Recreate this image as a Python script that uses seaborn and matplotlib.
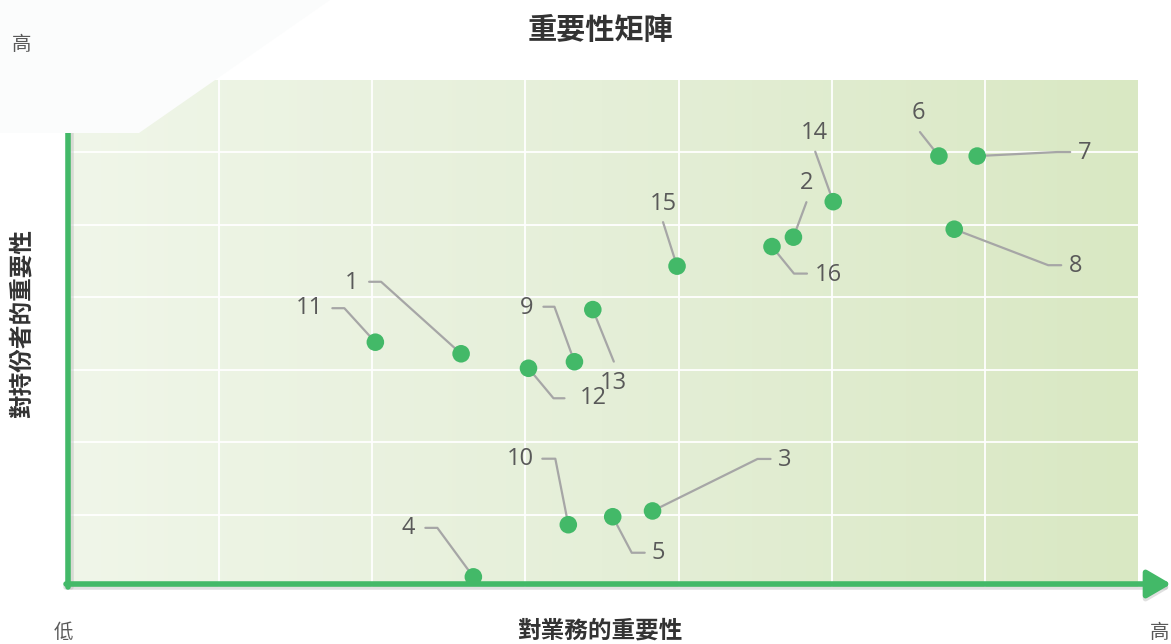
import matplotlib
matplotlib.use("Agg")
import matplotlib.pyplot as plt
from matplotlib.colors import LinearSegmentedColormap
from matplotlib.patches import Polygon
import numpy as np
import pandas as pd
import seaborn as sns

# ── data ──────────────────────────────────────────────────────────────────────
TITLE = "重要性矩陣"
X_LABEL = "對業務的重要性"
Y_LABEL = "對持份者的重要性"
LOW, HIGH = "低", "高"

issue_ids = ["1", "2", "3", "4", "5", "6", "7", "8",
             "9", "10", "11", "12", "13", "14", "15", "16"]
business = [2.58, 4.75, 3.83, 2.66, 3.57, 5.70, 5.95, 5.80,
            3.32, 3.28, 2.02, 3.02, 3.44, 5.01, 3.99, 4.61]
stakeholder = [3.22, 4.83, 1.05, 0.14, 0.97, 5.95, 5.95, 4.94,
               3.11, 0.86, 3.38, 3.02, 3.83, 5.32, 4.43, 4.70]

# label placement: text offset and leader path, in output pixels (x right, y down)
LABEL_LAYOUT = {
    "1":  ((-109, -71), [(-80, -72), (-92, -72)]),
    "2":  ((13, -54),   [(13, -35)]),
    "3":  ((132, -51),  [(105, -52), (118, -52)]),
    "4":  ((-65, -49),  [(-36, -49), (-48, -49)]),
    "5":  ((46, 36),    [(19, 36), (32, 36)]),
    "6":  ((-21, -43),  [(-19, -24)]),
    "7":  ((107, -3),   [(80, -4), (93, -4)]),
    "8":  ((121, 37),   [(94, 36), (107, 36)]),
    "9":  ((-48, -54),  [(-20, -55), (-31, -55)]),
    "10": ((-48, -66),  [(-13, -66), (-26, -66)]),
    "11": ((-66, -34),  [(-31, -34), (-43, -34)]),
    "12": ((65, 30),    [(25, 30), (36, 30)]),
    "13": ((21, 73),    [(21, 52)]),
    "14": ((-19, -69),  [(-18, -50)]),
    "15": ((-14, -62),  [(-14, -44)]),
    "16": ((56, 28),    [(22, 27), (35, 27)]),
}

GREEN = "#43B968"
TEXT = "#595959"
CJK = ["Noto Sans CJK TC", "DejaVu Sans"]

sns.set_theme(style="white")
plt.rcParams["font.family"] = ["Open Sans", "Noto Sans CJK TC", "DejaVu Sans"]

df = pd.DataFrame({"id": issue_ids, "business": business, "stakeholder": stakeholder})

W, H = 1171, 644
fig = plt.figure(figsize=(W / 100, H / 100), dpi=100)
fig.patch.set_facecolor("white")

# faint decorative shape in the top-left corner
fig.patches.append(Polygon([(0, 1), (330 / W, 1), (139 / W, 1 - 133 / H), (0, 1 - 133 / H)],
                           closed=True, transform=fig.transFigure,
                           facecolor="#FBFCFC", edgecolor="none", zorder=0))

ax = fig.add_axes([66 / W, 57 / H, 1072 / W, 507 / H])
ax.set_xlim(0, 7)
ax.set_ylim(0, 7)

# green gradient background
cmap = LinearSegmentedColormap.from_list("bg", ["#F0F6E9", "#E5EFD8", "#D9E8C3"])
ax.imshow(np.linspace(0, 1, 256)[None, :], cmap=cmap, extent=[0, 7, 0, 7],
          aspect="auto", zorder=0, interpolation="bilinear")

ax.set_xticks(range(1, 7))
ax.set_yticks(range(1, 7))
ax.grid(True, color="white", lw=1.3)
ax.tick_params(length=0, labelbottom=False, labelleft=False)
for s in ax.spines.values():
    s.set_visible(False)

sns.scatterplot(data=df, x="business", y="stakeholder", color=GREEN, s=160,
                edgecolor="none", ax=ax, zorder=5, clip_on=False)
ax.set_xlabel("")
ax.set_ylabel("")

# leader lines and labels
for pid, x, y in zip(issue_ids, business, stakeholder):
    (tx, ty), path = LABEL_LAYOUT[pid]
    px, py = ax.transData.transform((x, y))
    xs = [px] + [px + dx for dx, dy in path]
    ys = [py] + [py - dy for dx, dy in path]
    ax.add_line(plt.Line2D(xs, ys, transform=None, color="#A6A6A6", lw=1.6,
                           zorder=4, clip_on=False))
    ax.annotate(pid, xy=(x, y), xytext=(tx, -ty), textcoords="offset pixels",
                ha="center", va="center", fontsize=17, color=TEXT, zorder=6)

# axis arrows with a soft shadow
arrow = dict(arrowstyle="-|>,head_width=0.7,head_length=1.2", lw=4, color=GREEN,
             shrinkA=0, shrinkB=0)
shadow = dict(arrow, color="#BBBBBB", alpha=0.45)
for props, off in [(shadow, 3), (arrow, 0)]:
    ax.annotate("", xy=(1105 / 1072, (3 - off) / 507), xytext=(0, (3 - off) / 507),
                xycoords="axes fraction", arrowprops=props, annotation_clip=False)
    ax.annotate("", xy=((2 + off) / 1072, 557 / 507), xytext=((2 + off) / 1072, 0),
                xycoords="axes fraction", arrowprops=props, annotation_clip=False)

fig.text(600 / W, 1 - 30 / H, TITLE, ha="center", va="center", fontsize=21,
         fontweight="bold", color="#333333", family=CJK)
fig.text(600 / W, 1 - 631 / H, X_LABEL, ha="center", va="center", fontsize=17,
         fontweight="bold", color="#333333", family=CJK)
fig.text(22 / W, 1 - 324 / H, Y_LABEL, ha="center", va="center", rotation=90,
         fontsize=17, fontweight="bold", color="#333333", family=CJK)
fig.text(22 / W, 1 - 44 / H, HIGH, ha="center", va="center", fontsize=14,
         color=TEXT, family=CJK)
fig.text(63 / W, 1 - 632 / H, LOW, ha="center", va="center", fontsize=14,
         color=TEXT, family=CJK)
fig.text(1169 / W, 1 - 632 / H, HIGH, ha="right", va="center", fontsize=14,
         color=TEXT, family=CJK)

fig.savefig("out.png", dpi=100)
